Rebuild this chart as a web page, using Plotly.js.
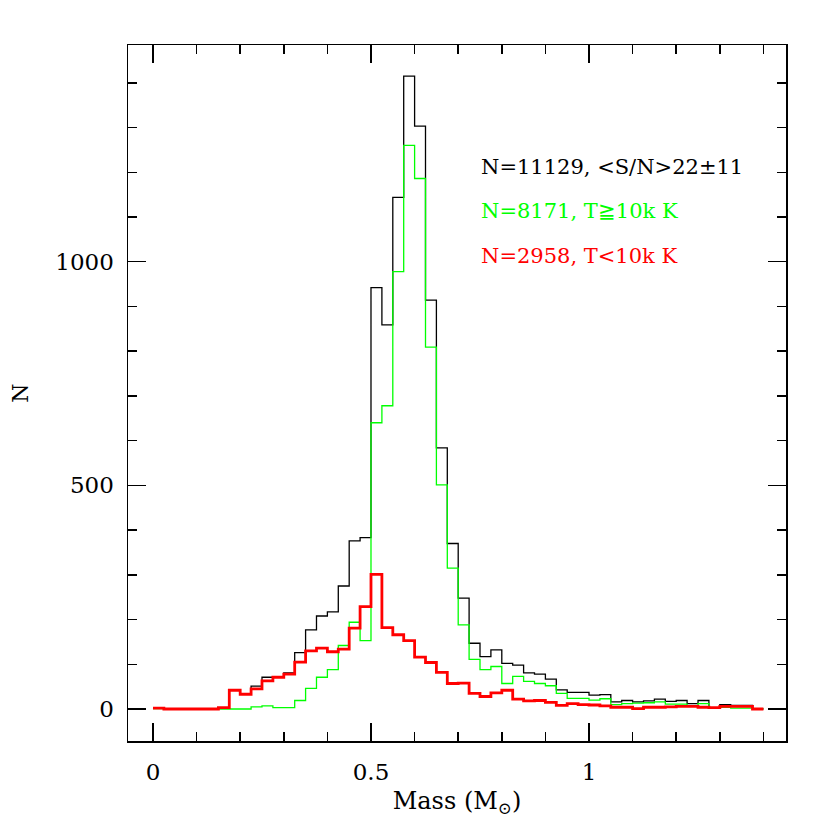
<!DOCTYPE html>
<html>
<head>
<meta charset="utf-8">
<script src="https://cdn.plot.ly/plotly-3.0.1.min.js"></script>
<style>
  html, body { margin: 0; padding: 0; background: #fff; }
  #chart { width: 830px; height: 830px; }
</style>
</head>
<body>
<div id="chart"></div>
<script>
// histogram counts, bins of 0.025 Msun from 0 to 1.4
const binWidth = 0.025;

const allCounts = [
  2, 0, 0, 0, 0, 0, 3, 42, 33, 51,
  71, 72, 81, 126, 177, 208, 217, 275, 376, 383,
  942, 859, 1144, 1415, 1303, 914, 584, 370, 248, 147,
  117, 132, 102, 98, 81, 78, 67, 43, 37, 37,
  31, 32, 16, 19, 16, 18, 22, 17, 19, 12,
  19, 3, 10, 8, 8, 0
];

const hotCounts = [
  1, 0, 0, 0, 0, 0, 0, 0, 0, 5,
  7, 3, 3, 19, 46, 71, 88, 142, 194, 153,
  640, 678, 978, 1260, 1186, 809, 501, 315, 188, 111,
  88, 95, 57, 73, 62, 57, 52, 35, 24, 24,
  20, 23, 10, 12, 13, 14, 16, 11, 11, 7,
  12, 3, 4, 2, 2, 1
];

const coolCounts = [
  2, 0, 0, 0, 0, 0, 3, 42, 33, 45,
  63, 71, 78, 105, 130, 136, 128, 134, 181, 229,
  301, 182, 166, 153, 116, 104, 82, 57, 58, 35,
  28, 36, 42, 22, 18, 19, 15, 8, 12, 10,
  9, 7, 4, 4, 1, 4, 4, 5, 6, 6,
  4, 3, 6, 6, 6, 0
];

const labels = [
  { text: 'N=11129, <S/N>22±11', color: '#000000', y: 1212 },
  { text: 'N=8171, T≧10k K', color: '#00ff00', y: 1114 },
  { text: 'N=2958, T<10k K', color: '#ff0000', y: 1013 }
];

// step curve: left edges plus the closing edge
function steps(counts) {
  const x = counts.map((_, i) => i * binWidth);
  x.push(counts.length * binWidth);
  const y = counts.slice();
  y.push(counts[counts.length - 1]);
  return { x, y };
}

const font = 'DejaVu Serif, Liberation Serif, serif';

const traces = [
  { counts: allCounts, color: '#000000', width: 1.3 },
  { counts: hotCounts, color: '#00ff00', width: 1.3 },
  { counts: coolCounts, color: '#ff0000', width: 2.8 }
].map(s => {
  const p = steps(s.counts);
  return {
    x: p.x,
    y: p.y,
    type: 'scatter',
    mode: 'lines',
    line: { shape: 'hv', color: s.color, width: s.width },
    hoverinfo: 'skip'
  };
});

const axisCommon = {
  showline: true,
  mirror: 'ticks',
  linecolor: '#000',
  linewidth: 1.5,
  ticks: 'inside',
  ticklen: 18,
  tickwidth: 1.5,
  tickcolor: '#000',
  showgrid: false,
  zeroline: false,
  tickfont: { family: font, size: 23, color: '#000' }
};

const layout = {
  width: 830,
  height: 830,
  paper_bgcolor: '#fff',
  plot_bgcolor: '#fff',
  showlegend: false,
  margin: { l: 128, r: 44, t: 45, b: 89 },
  xaxis: {
    ...axisCommon,
    range: [-0.0573, 1.4518],
    tick0: 0,
    dtick: 0.5,
    ticklabelstandoff: 10,
    minor: { ticks: 'inside', ticklen: 9, tickwidth: 1.5, tickcolor: '#000', dtick: 0.1, tick0: 0 },
    title: { text: 'Mass (M<sub>⊙</sub>)', font: { family: font, size: 24, color: '#000' }, standoff: 8 }
  },
  yaxis: {
    ...axisCommon,
    range: [-71.5, 1484.5],
    tick0: 0,
    dtick: 500,
    ticklabelstandoff: 8,
    minor: { ticks: 'inside', ticklen: 9, tickwidth: 1.5, tickcolor: '#000', dtick: 100, tick0: 0 },
    title: { text: 'N', font: { family: font, size: 22, color: '#000' }, standoff: 20 }
  },
  annotations: labels.map(l => ({
    x: 0.748,
    y: l.y,
    xref: 'x',
    yref: 'y',
    xanchor: 'left',
    yanchor: 'middle',
    showarrow: false,
    text: l.text,
    font: { family: font, size: 21, color: l.color }
  }))
};

Plotly.newPlot('chart', traces, layout, { displayModeBar: false, staticPlot: true });
</script>
</body>
</html>
